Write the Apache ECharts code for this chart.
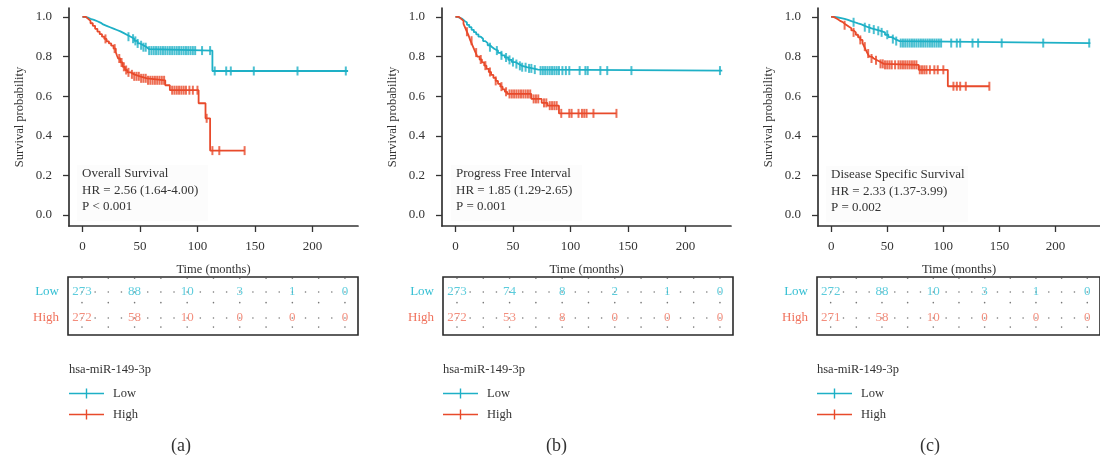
<!DOCTYPE html>
<html>
<head>
<meta charset="utf-8">
<script src="https://cdn.jsdelivr.net/npm/echarts@6/dist/echarts.min.js"></script>
<style>
  html, body { margin: 0; padding: 0; background: #ffffff; }
  #chart { width: 1100px; height: 462px; }
</style>
</head>
<body>
<div id="chart"></div>
<script>
// ---- axis ticks and labels ----
const timeTicks = [0, 50, 100, 150, 200];
const probTicks = [0, 0.2, 0.4, 0.6, 0.8, 1.0];
const riskTimes = [0, 50, 100, 150, 200, 250];
const groupNames = ['Low', 'High'];
const panelTitles = ['Overall Survival', 'Progress Free Interval', 'Disease Specific Survival'];
const hrTexts = ['HR = 2.56 (1.64-4.00)', 'HR = 1.85 (1.29-2.65)', 'HR = 2.33 (1.37-3.99)'];
const pTexts = ['P < 0.001', 'P = 0.001', 'P = 0.002'];
const captions = ['(a)', '(b)', '(c)'];
const legendTitle = 'hsa-miR-149-3p';

// ---- Overall survival: step times (months) and survival after each drop ----
const osLowTimes = [2, 5, 7, 10, 13, 16, 18, 21, 24, 27, 30, 33, 36, 39, 42, 45, 48, 50, 53, 56, 58, 113];
const osLowSurv  = [0.996, 0.99, 0.985, 0.978, 0.97, 0.962, 0.955, 0.948, 0.941, 0.934, 0.927, 0.918, 0.909, 0.9, 0.89, 0.879, 0.866, 0.857, 0.847, 0.837, 0.83, 0.727];
const osLowEnd = 231;
const osLowCensor = [40, 44, 46, 48, 51, 53, 55, 58, 60, 62, 64, 66, 68, 70, 72, 74, 76, 78, 80, 82, 84, 86, 88, 90, 92, 94, 96, 98, 104, 111, 115, 125, 129, 149, 187, 229];

const osHighTimes = [3, 5, 7, 9, 11, 13, 15, 17, 19, 21, 23, 25, 27, 29, 30, 31, 33, 35, 37, 39, 42, 45, 50, 56, 72, 76, 101, 107, 111];
const osHighSurv  = [0.99, 0.98, 0.968, 0.955, 0.94, 0.926, 0.913, 0.9, 0.889, 0.877, 0.866, 0.855, 0.84, 0.822, 0.805, 0.79, 0.77, 0.748, 0.732, 0.72, 0.71, 0.7, 0.69, 0.68, 0.655, 0.63, 0.564, 0.488, 0.325];
const osHighEnd = 141;
const osHighCensor = [20, 28, 32, 34, 36, 38, 40, 43, 45, 47, 49, 51, 53, 55, 57, 59, 61, 63, 65, 67, 69, 71, 78, 80, 82, 84, 86, 88, 90, 93, 96, 100, 108, 113, 119, 141];

// ---- Progress free interval ----
const pfiLowTimes = [2, 4, 6, 8, 10, 12, 14, 16, 18, 20, 22, 24, 26, 28, 30, 32, 34, 37, 40, 43, 46, 49, 52, 55, 58, 62, 67, 72];
const pfiLowSurv  = [0.995, 0.99, 0.98, 0.972, 0.96, 0.948, 0.935, 0.923, 0.912, 0.9, 0.89, 0.878, 0.868, 0.857, 0.847, 0.838, 0.83, 0.818, 0.806, 0.795, 0.783, 0.772, 0.762, 0.753, 0.746, 0.74, 0.734, 0.729];
const pfiLowEnd = 232;
const pfiLowCensor = [30, 36, 40, 44, 47, 50, 53, 56, 58, 61, 64, 66, 69, 74, 76, 78, 80, 82, 84, 86, 88, 90, 93, 96, 99, 108, 113, 115, 126, 132, 153, 230];

const pfiHighTimes = [3, 5, 7, 8.5, 10, 11.5, 13, 14.5, 16, 17.5, 19, 21, 23, 25, 27, 29, 31, 33, 35, 37, 39, 41, 43, 45, 66, 75, 80, 90];
const pfiHighSurv  = [0.99, 0.98, 0.965, 0.945, 0.925, 0.905, 0.88, 0.86, 0.84, 0.82, 0.8, 0.785, 0.77, 0.754, 0.738, 0.722, 0.707, 0.692, 0.677, 0.662, 0.648, 0.634, 0.622, 0.611, 0.586, 0.566, 0.552, 0.513];
const pfiHighEnd = 140;
const pfiHighCensor = [10, 14, 18, 22, 26, 30, 35, 40, 44, 47, 49, 51, 53, 55, 57, 59, 61, 63, 65, 68, 70, 72, 77, 79, 82, 84, 86, 88, 92, 99, 101, 107, 110, 112, 114, 120, 140];

// ---- Disease specific survival ----
const dssLowTimes = [3, 6, 9, 12, 15, 18, 21, 24, 27, 30, 33, 36, 40, 44, 48, 51, 54, 57, 61];
const dssLowSurv  = [0.997, 0.994, 0.99, 0.985, 0.979, 0.973, 0.967, 0.962, 0.955, 0.948, 0.942, 0.936, 0.93, 0.922, 0.91, 0.898, 0.888, 0.878, 0.868];
const dssLowEnd = 231;
const dssLowCensor = [20, 30, 34, 38, 42, 45, 50, 55, 58, 62, 64, 66, 68, 70, 72, 74, 76, 78, 80, 82, 84, 86, 88, 90, 92, 94, 96, 98, 107, 112, 115, 126, 131, 152, 189, 230];

const dssHighTimes = [2, 4, 6, 8, 10, 12, 14, 16, 18, 20, 22, 24, 26, 28, 29.5, 31, 32.5, 34, 36, 38, 41, 44, 47, 78, 104];
const dssHighSurv  = [0.995, 0.988, 0.98, 0.975, 0.966, 0.958, 0.95, 0.943, 0.932, 0.922, 0.91, 0.897, 0.884, 0.868, 0.85, 0.832, 0.815, 0.8, 0.79, 0.781, 0.772, 0.763, 0.758, 0.733, 0.65];
const dssHighEnd = 141;
const dssHighCensor = [12, 20, 26, 30, 33, 36, 40, 44, 46, 48, 50, 52, 54, 57, 60, 62, 64, 66, 68, 70, 72, 74, 76, 79, 81, 83, 85, 88, 92, 95, 100, 109, 112, 115, 120, 141];

// ---- number at risk ----
const osRiskLow  = [273, 88, 10, 3, 1, 0];
const osRiskHigh = [272, 58, 10, 0, 0, 0];
const pfiRiskLow  = [273, 74, 8, 2, 1, 0];
const pfiRiskHigh = [272, 53, 8, 0, 0, 0];
const dssRiskLow  = [272, 88, 10, 3, 1, 0];
const dssRiskHigh = [271, 58, 10, 0, 0, 0];

// dotted guide pattern of the risk table
const tableColumnTimes = [0, 25, 50, 75, 100, 125, 150, 175, 200, 225, 250];
const tableRowDotTimes = [0, 12.5, 25, 37.5, 50, 62.5, 75, 87.5, 100, 112.5, 125, 137.5, 150, 162.5, 175, 187.5, 200, 212.5, 225, 237.5, 250];

// ---- styling ----
const FONT = '"Liberation Serif", "DejaVu Serif", serif';
const TEXT = '#333333';
const LOW_COLOR = '#1eb0c6';
const HIGH_COLOR = '#e84a2b';
const LOW_TEXT = '#33bfd3';
const HIGH_TEXT = '#f0725d';

const panels = [
  { low:  { t: osLowTimes,  s: osLowSurv,  end: osLowEnd,  cens: osLowCensor },
    high: { t: osHighTimes, s: osHighSurv, end: osHighEnd, cens: osHighCensor },
    riskLow: osRiskLow, riskHigh: osRiskHigh },
  { low:  { t: pfiLowTimes,  s: pfiLowSurv,  end: pfiLowEnd,  cens: pfiLowCensor },
    high: { t: pfiHighTimes, s: pfiHighSurv, end: pfiHighEnd, cens: pfiHighCensor },
    riskLow: pfiRiskLow, riskHigh: pfiRiskHigh },
  { low:  { t: dssLowTimes,  s: dssLowSurv,  end: dssLowEnd,  cens: dssLowCensor },
    high: { t: dssHighTimes, s: dssHighSurv, end: dssHighEnd, cens: dssHighCensor },
    riskLow: dssRiskLow, riskHigh: dssRiskHigh }
];

// layout (pixels)
const plotLeft = [69, 442, 818];
const tableLeft = [68, 443, 817];
const PLOT_TOP = 8, PLOT_W = 289, PLOT_H = 218;
const TABLE_TOP = 277, TABLE_W = 290, TABLE_H = 58;
const X_MIN = -11.7, X_MAX = 239.6;
const Y_MIN = -0.0556, Y_MAX = 1.045;
const TX_MIN = -13.3, TX_MAX = 262.4;
const TY_MIN = -0.654, TY_MAX = 1.577;
const annoTop = [[175, 192, 208], [175, 192, 208], [176, 193, 209]];
const annoLeft = [82, 456, 831];
const annoBoxW = [131, 131, 142];
const legendLeft = [69, 443, 817];
const captionX = [183, 558, 932];

// Kaplan-Meier step path
function kmLine(g) {
  const pts = [[0, 1]];
  g.t.forEach((t, i) => pts.push([t, g.s[i]]));
  pts.push([g.end, g.s[g.s.length - 1]]);
  return pts;
}
// survival level at a censoring time
function survAt(g, time) {
  let v = 1;
  g.t.forEach((t, i) => { if (t <= time) v = g.s[i]; });
  return v;
}

const grid = [], xAxis = [], yAxis = [], series = [], graphic = [], legend = [];

panels.forEach((p, i) => {
  const gp = 2 * i, gt = 2 * i + 1;
  grid.push({ left: plotLeft[i], top: PLOT_TOP, width: PLOT_W, height: PLOT_H, show: false, containLabel: false });
  grid.push({ left: tableLeft[i], top: TABLE_TOP, width: TABLE_W, height: TABLE_H, show: true,
              borderColor: '#2a2a2a', borderWidth: 1.6, backgroundColor: 'transparent', containLabel: false });

  xAxis.push({
    gridIndex: gp, type: 'value', min: X_MIN, max: X_MAX,
    axisLine: { show: true, onZero: false, lineStyle: { color: TEXT, width: 1.7 } },
    axisTick: { show: true, customValues: timeTicks, length: 6, lineStyle: { color: TEXT, width: 1.3 } },
    axisLabel: { show: true, customValues: timeTicks, margin: 14, fontFamily: FONT, fontSize: 13, color: TEXT },
    splitLine: { show: false },
    name: 'Time (months)', nameLocation: 'middle', nameGap: 37,
    nameTextStyle: { fontFamily: FONT, fontSize: 12.5, color: TEXT }
  });
  yAxis.push({
    gridIndex: gp, type: 'value', min: Y_MIN, max: Y_MAX,
    axisLine: { show: true, onZero: false, lineStyle: { color: TEXT, width: 1.7 } },
    axisTick: { show: true, customValues: probTicks, length: 6, lineStyle: { color: TEXT, width: 1.3 } },
    axisLabel: { show: true, customValues: probTicks, margin: 17, fontFamily: FONT, fontSize: 13, color: TEXT,
                 formatter: v => Number(v).toFixed(1) },
    splitLine: { show: false },
    name: 'Survival probability', nameLocation: 'middle', nameGap: 43, nameRotate: 90,
    nameTextStyle: { fontFamily: FONT, fontSize: 12.5, color: TEXT }
  });

  xAxis.push({
    gridIndex: gt, type: 'value', min: TX_MIN, max: TX_MAX,
    axisLine: { show: false }, axisTick: { show: false }, axisLabel: { show: false }, splitLine: { show: false }
  });
  yAxis.push({
    gridIndex: gt, type: 'value', min: TY_MIN, max: TY_MAX,
    axisLine: { show: false }, axisTick: { show: false }, splitLine: { show: false },
    axisLabel: { show: true, customValues: [0, 1], margin: 9, fontFamily: FONT, fontSize: 13,
                 formatter: v => (Number(v) >= 0.5 ? groupNames[0] : groupNames[1]),
                 color: v => (Number(v) >= 0.5 ? LOW_TEXT : HIGH_TEXT) }
  });

  // dotted guides inside the risk table
  const dots = [];
  tableColumnTimes.forEach(t => { [1.53, 0.59, -0.35].forEach(y => dots.push([t, y])); });
  tableRowDotTimes.forEach(t => { dots.push([t, 1]); dots.push([t, 0]); });
  series.push({
    type: 'scatter', name: 'grid dots', xAxisIndex: gt, yAxisIndex: gt, silent: true,
    symbol: 'circle', symbolSize: 1.6, itemStyle: { color: '#555' }, data: dots, z: 1, animation: false
  });

  // numbers at risk
  [[p.riskLow, 1, LOW_TEXT], [p.riskHigh, 0, HIGH_TEXT]].forEach(([arr, row, col]) => {
    series.push({
      type: 'scatter', name: 'at risk', xAxisIndex: gt, yAxisIndex: gt, silent: true,
      symbol: 'circle', symbolSize: 1, itemStyle: { color: 'rgba(0,0,0,0)' },
      data: riskTimes.map((t, k) => [t, row, arr[k]]),
      label: { show: true, position: 'inside', formatter: q => String(q.value[2]),
               fontFamily: FONT, fontSize: 13, color: col, backgroundColor: 'transparent' },
      z: 3, animation: false
    });
  });

  // survival curves and censor marks
  [['Low', p.low, LOW_COLOR], ['High', p.high, HIGH_COLOR]].forEach(([nm, g, col], k) => {
    series.push({
      type: 'line', name: nm, xAxisIndex: gp, yAxisIndex: gp, step: 'end',
      data: kmLine(g), showSymbol: false, symbol: 'none', color: col,
      lineStyle: { color: col, width: 1.8 }, itemStyle: { color: col },
      z: 2 + k, animation: false, silent: true
    });
    series.push({
      type: 'scatter', name: nm, xAxisIndex: gp, yAxisIndex: gp,
      data: g.cens.map(t => [t, survAt(g, t)]),
      symbol: 'rect', symbolSize: [2, 9], itemStyle: { color: col },
      z: 2 + k, animation: false, silent: true
    });
  });

  // faint backdrop and annotation text
  graphic.push({ type: 'rect', left: annoLeft[i] - 5, top: annoTop[i][0] - 10, silent: true, z: -1,
    shape: { width: annoBoxW[i], height: 56 }, style: { fill: '#fcfcfc' } });
  [panelTitles[i], hrTexts[i], pTexts[i]].forEach((txt, k) => {
    graphic.push({ type: 'text', left: annoLeft[i], top: annoTop[i][k] - 8, silent: true,
      style: { text: txt, font: '13px ' + FONT, fill: TEXT } });
  });

  // legend header and legend
  graphic.push({ type: 'text', left: legendLeft[i], top: 363, silent: true,
    style: { text: legendTitle, font: '12.5px ' + FONT, fill: TEXT } });
  legend.push({
    orient: 'vertical', left: legendLeft[i], top: 387, padding: 0,
    itemWidth: 35, itemHeight: 10, itemGap: 8, selectedMode: false,
    textStyle: { fontFamily: FONT, fontSize: 12.5, color: TEXT, padding: [0, 0, 0, 4] },
    data: groupNames.map(n => ({ name: n, icon: 'path://M0,4.3H35V5.7H0Z M16.8,0H18.2V10H16.8Z' }))
  });

  // panel caption
  graphic.push({ type: 'text', left: captionX[i] - 12, top: 437, silent: true,
    style: { text: captions[i], font: '18px ' + FONT, fill: TEXT } });
});

const chart = echarts.init(document.getElementById('chart'), null, { renderer: 'canvas' });
chart.setOption({
  backgroundColor: '#ffffff',
  animation: false,
  grid, xAxis, yAxis, series, graphic, legend
});
</script>
</body>
</html>
